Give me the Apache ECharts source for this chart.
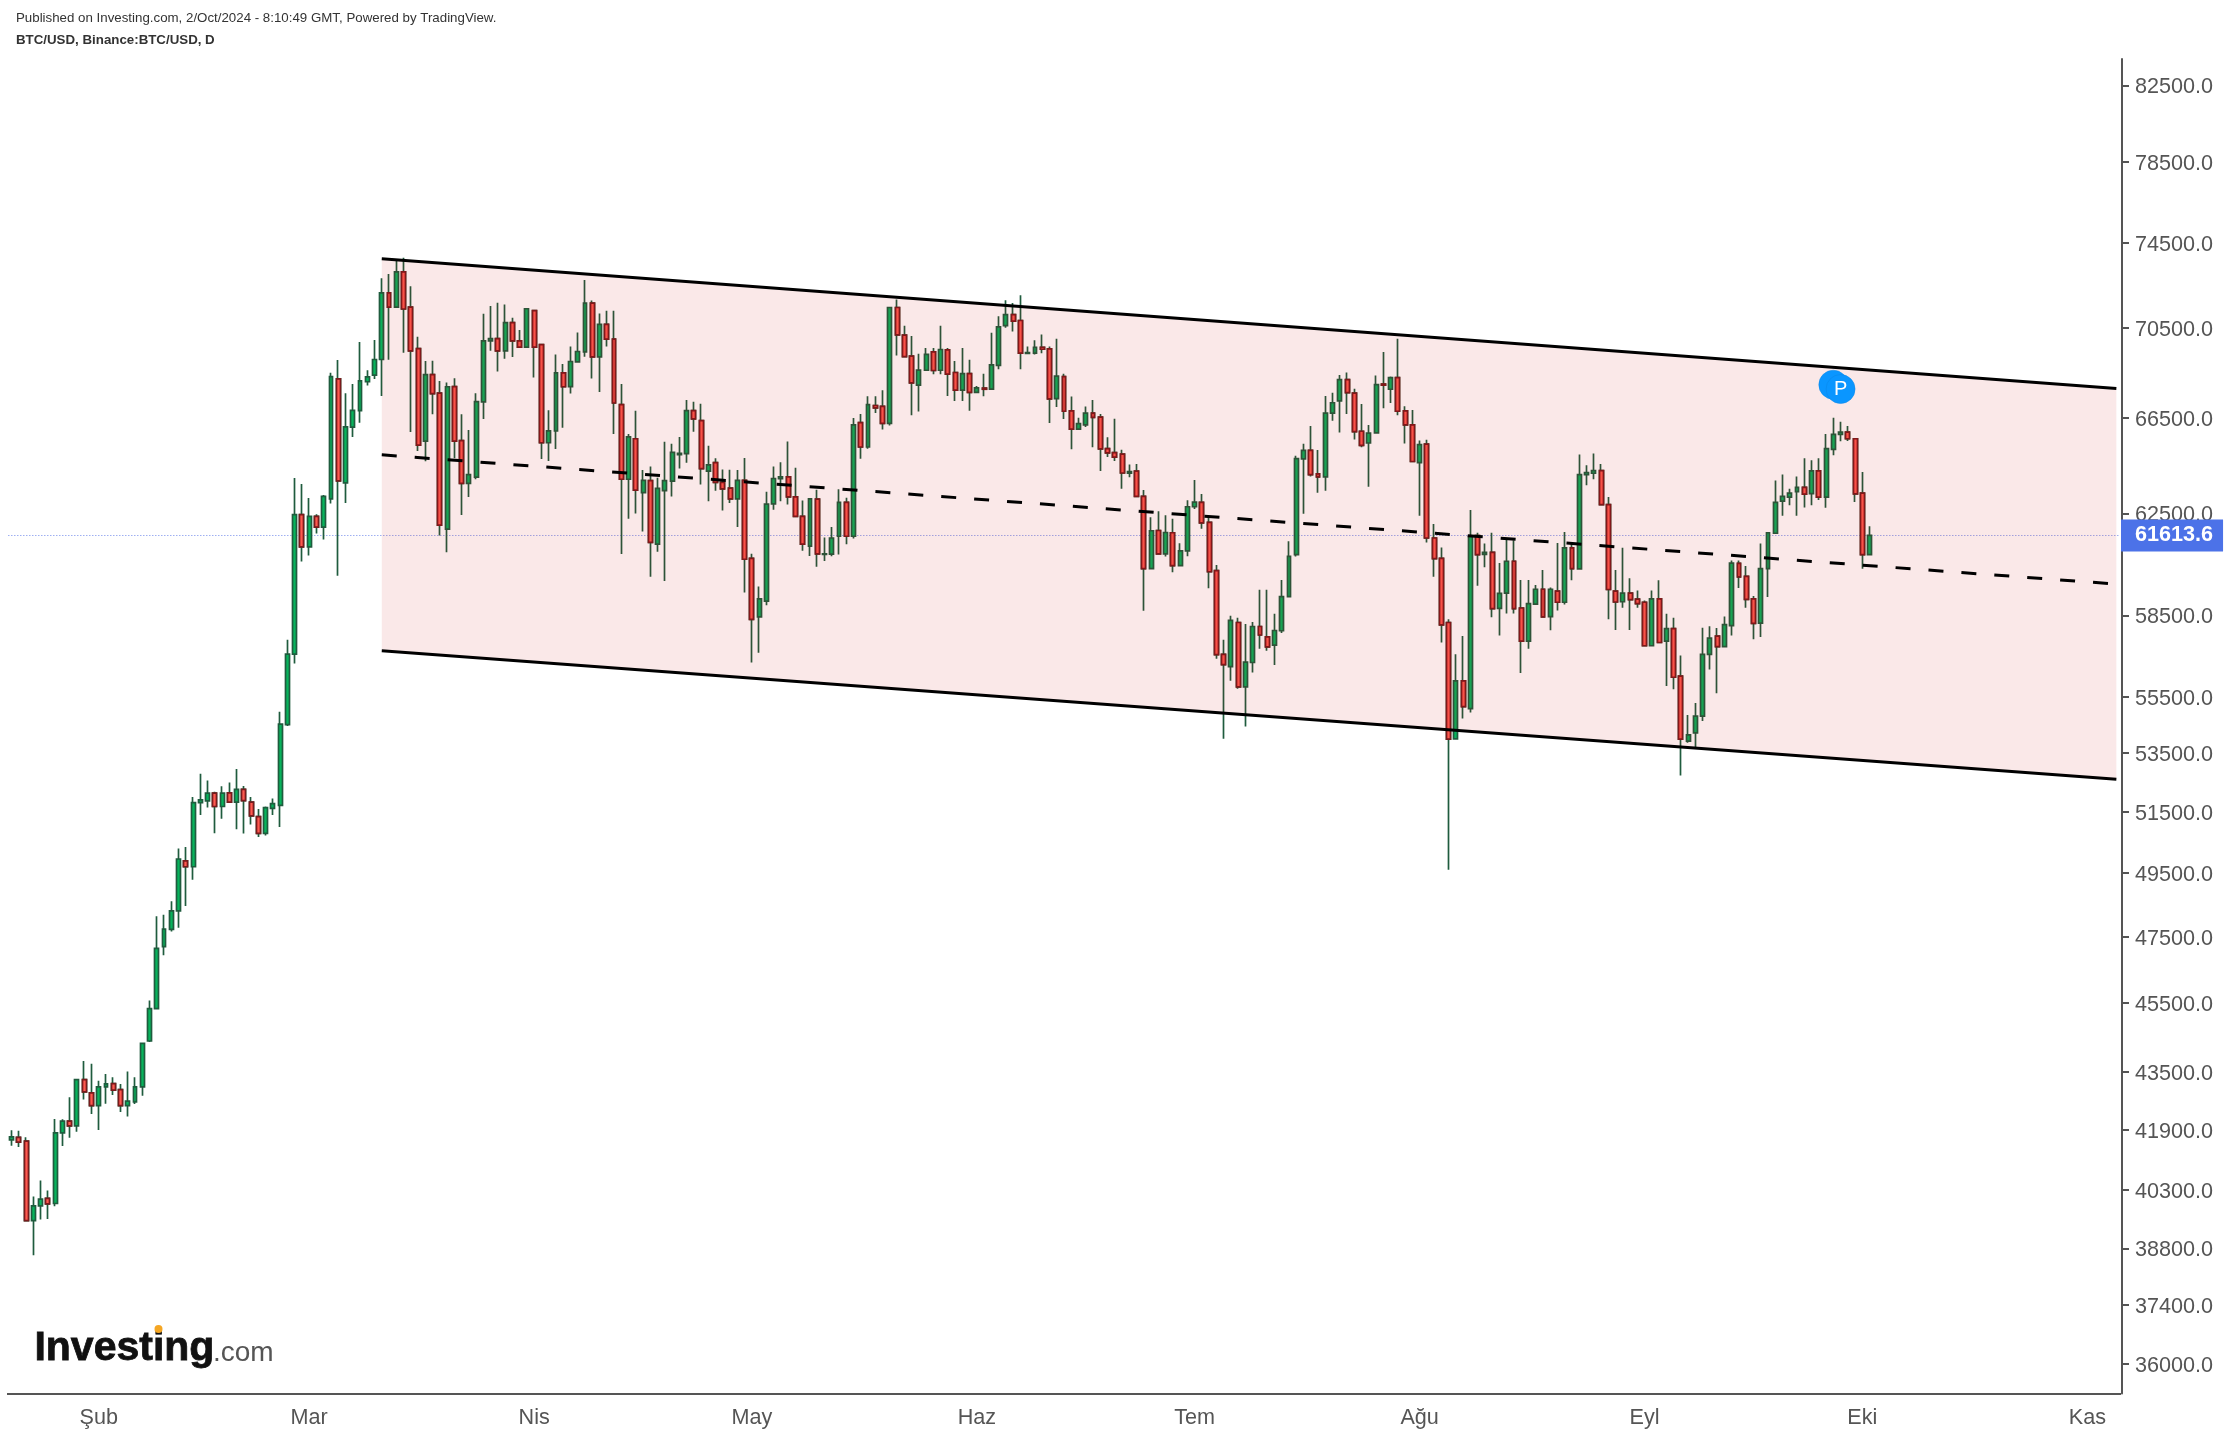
<!DOCTYPE html>
<html><head><meta charset="utf-8">
<style>html,body{margin:0;padding:0;background:#fff}#c{width:2230px;height:1436px}</style>
<script src="https://cdn.jsdelivr.net/npm/echarts@6/dist/echarts.min.js"></script>
</head><body><div id="c"></div>
<script>
const publishedText = 'Published on Investing.com, 2/Oct/2024 - 8:10:49 GMT, Powered by TradingView.';
const symbolText = 'BTC/USD, Binance:BTC/USD, D';
const firstDay = '2024-01-20';
const axisDayCount = 291;
const priceTicks = [82500,78500,74500,70500,66500,62500,58500,55500,53500,51500,49500,47500,45500,43500,41900,40300,38800,37400,36000];
const monthTicks = {'2024-02-01':'Şub','2024-03-01':'Mar','2024-04-01':'Nis','2024-05-01':'May','2024-06-01':'Haz','2024-07-01':'Tem','2024-08-01':'Ağu','2024-09-01':'Eyl','2024-10-01':'Eki','2024-11-01':'Kas'};
const lastPrice = 61613.6;
const opens = [41635,41700,41600,39510,39890,40080,39950,41820,42140,42010,43290,42920,42570,43090,43180,43010,42570,42670,43090,44390,45330,47190,47720,48300,49890,49700,51810,51870,52130,51680,52140,51830,52260,51830,51340,50790,51620,51720,54500,57050,
62450,61160,62380,61950,63090,68200,63750,66100,66810,68070,68360,69060,72110,71450,73100,71450,69550,65500,68390,67570,61870,67860,65520,63730,63990,67190,69900,70000,69450,70730,69900,69620,71280,69730,65430,65930,68460,67860,68950,69400,
71630,69180,70650,69980,67070,63900,65600,63350,63840,61270,63430,63820,64930,64970,66810,66380,64240,64590,63770,63530,63090,63850,60700,58440,59040,62890,63920,64000,63170,62380,61190,63080,60860,60870,61580,62950,61580,66290,65250,67030,
66990,66260,71430,70160,69210,67920,68580,69400,68580,69490,68480,67700,68430,67600,67790,67750,68800,70590,71100,70830,69330,69350,69610,69540,67330,68300,66800,66010,66190,66700,66530,65180,65010,64950,64150,64240,63190,60300,61810,60880,
61720,60420,61000,62770,62950,62140,60220,57040,56590,58230,55850,56740,58080,57690,57380,57920,59220,60850,64750,65110,64120,64000,66700,67230,68165,67570,65920,65420,65850,67970,67740,68250,66800,66190,64590,65370,61510,60700,58230,54000,
56070,55070,61610,60860,60940,58770,59350,60590,58780,57530,58930,59500,58450,59430,59000,61120,60290,64090,64150,64260,62860,59430,59020,59350,59120,59000,57360,59130,57530,58000,56240,53920,54210,54800,57040,57720,57330,58110,60510,60000,
59130,58210,60300,61700,63000,63160,63390,63560,63310,64250,63160,65150,65790,65880,65600,63330,60850];
const highs = [41890,41880,41700,40130,40550,40290,42200,42190,42800,43300,43820,43740,43260,43450,43360,43170,43520,43360,44320,45570,48130,48180,48600,50290,50340,52000,52790,52560,52180,52360,52490,52950,52370,52000,51600,51680,51950,54960,57580,63950,
63700,63130,62470,63250,68470,69040,67570,67970,69850,68580,69940,72800,73000,73640,73770,72420,70090,68990,69000,68100,68040,68230,66650,65970,67570,71140,71500,71650,71570,70950,70390,71400,71320,69750,66820,69290,68860,69650,70280,72720,
71750,71150,71280,71280,67970,65800,66800,64280,64430,63960,65470,65390,65680,67270,67190,67110,65300,64780,64300,64290,64280,64790,60890,59610,63380,64430,64610,65480,64380,63030,63120,63470,61530,61950,63490,63140,66490,66660,67430,67430,
67700,71450,71800,70590,70120,69320,69580,69580,70590,69580,68990,69580,69050,67880,68430,70270,71020,71760,71640,72000,69640,69930,70190,69640,70000,68430,67420,66500,66990,67270,66660,65660,66460,65130,64510,64540,63460,62340,62590,62430,
62280,61300,63040,63870,63290,62400,60440,57580,58490,58410,58170,58250,59480,59480,58560,59860,61380,64880,65390,66150,65120,67440,67590,68370,68480,67760,67100,66190,68350,69400,68300,70000,67000,66830,65530,65560,62070,61130,58350,57040,
57720,62640,61720,61290,61720,60520,61500,61420,59860,59860,59660,60250,59570,61310,61750,61350,64930,64480,64980,64530,63170,60250,61120,59930,59450,59070,59450,59850,58560,58410,57000,54840,55270,58030,58090,58020,58460,60620,60620,60400,
59240,61290,61720,63850,64100,63510,64010,64780,64690,64780,65800,66500,66330,66150,65600,64200,61980];
const lows = [41475,41440,39500,38630,39540,39550,39880,41470,41690,41850,42740,42340,41900,42620,42860,42390,42270,42610,42840,44360,45330,46930,47660,47770,48450,49280,51400,51650,50790,51270,51830,50920,50780,51080,50670,50720,51400,51000,54450,56700,
60580,60820,61690,61450,62900,60020,62920,65680,66280,67900,68190,67450,69050,71450,69360,65890,65080,64650,66650,61610,60950,64780,62440,63170,63900,66450,69450,68520,69090,69170,69620,69620,68260,64740,64660,65170,66070,67550,68950,69180,
68220,67620,69650,65800,60880,62280,62500,61770,59980,60960,59820,63190,64350,64590,65900,63680,62990,63420,62620,62920,61950,59370,56740,57100,58890,62650,62990,62860,62380,61000,60800,60370,60600,60790,60860,61260,61490,64750,65180,66700,
65990,66170,69240,69190,66610,66770,68580,68400,68400,67440,67230,67230,66800,67600,67430,67750,68630,70500,70330,68620,69330,69290,69340,66270,66960,66450,65160,66010,66100,65240,64240,64830,64660,63510,63980,63190,58680,60300,60880,60780,
60160,60420,60790,62680,61880,59540,56880,54000,56070,55780,54430,56370,57250,57170,56650,57840,59220,60780,62490,64010,63340,63420,66370,65870,66660,65570,65240,63590,65850,66910,67140,66610,65400,64640,62410,61330,59980,57480,49600,54000,
54720,54930,59640,60360,58430,57740,58570,58570,56350,57250,58930,58440,57940,58690,58910,59850,60290,63650,63900,62860,58350,57950,58790,57950,58790,57360,57360,57480,55880,55760,52730,53860,53700,54630,56480,55620,57330,57740,59550,58790,
57600,57690,59200,61700,62410,62830,62410,62740,62830,63050,62730,64900,65490,65500,62960,60300,60850];
const closes = [41715,41570,39510,39890,40065,39940,41820,42140,42010,43290,42950,42570,43090,43170,43000,42570,42690,43090,44320,45330,47140,47730,48300,49950,49700,51810,51900,52130,51680,52130,51830,52260,51880,51370,50790,51640,51780,54520,57050,62450,
61160,62380,61950,63190,68300,63830,66110,66820,68110,68290,69060,72110,71450,73100,71360,69450,65330,68390,67550,62030,67850,65500,63730,64090,67200,69900,70000,69450,70730,69900,69620,71370,69620,65430,65940,68460,67850,68970,69420,71630,
69180,70650,69980,67140,63900,65680,63450,63850,61340,63520,63840,65020,64980,66810,66450,64340,64500,63770,63500,63090,63850,60670,58350,59130,62880,63930,64000,63170,62380,61270,63090,60880,60880,61510,62950,61580,66190,65250,67070,66930,
66260,71430,70170,69190,68020,68590,69290,68570,69510,68410,67700,68430,67600,67800,67740,68820,70540,71100,70800,69350,69370,69610,69520,67320,68320,66780,66010,66250,66700,66520,65170,65000,64820,64160,64220,63190,60300,61800,60880,61730,
60420,61000,62770,62960,62120,60180,57030,56660,58310,55850,56750,58080,57760,57320,57930,59220,60780,64760,65110,64090,64000,66700,67150,68165,67590,65900,65320,65840,67940,67920,68250,66780,66190,64640,65350,61510,60690,58140,53990,56070,
55140,61580,60850,60940,58760,59340,60590,58760,57530,58950,59500,58440,59500,59000,61120,60300,64090,64180,64260,62860,59490,59010,59350,59100,58950,57360,59130,57480,58000,56200,53990,54140,54800,57040,57640,57330,58150,60520,59980,59110,
58200,60300,61720,62950,63190,63330,63560,63290,64250,63160,65180,65790,65880,65600,63300,60850,61613.6];
const channelDays = ['2024-03-11','2024-11-05'];
const upperLine = [73720,67770];
const middleLine = [64920,59700];
const lowerLine = [57170,52600];
const pinDays = ['2024-09-27','2024-09-28'];
const pinPrices = [67940,67750];

const dayList = [];
{const t0 = Date.parse(firstDay+'T00:00:00Z');
 for(let i=0;i<axisDayCount;i++) dayList.push(new Date(t0+i*864e5).toISOString().slice(0,10));}
const font = '"Liberation Sans", Arial, sans-serif';
const axisColor = '#555555';
const wickGreen = '#1f5c3e', bodyGreen = '#07b45c', bodyRed = '#ff5a50', edgeRed = '#7a1a1c';
const chart = echarts.init(document.getElementById('c'), null, {renderer:'canvas'});
const candleRows = opens.map((o,i)=>[o,closes[i],lows[i],highs[i]]);
const redRows = opens.map((o,i)=> closes[i]<o ? [o,closes[i],closes[i],o] : ['-','-','-','-']);
const line = (name,vals,type,w)=>({type:'line',name,data:channelDays.map((d,i)=>[d,vals[i]]),showSymbol:false,symbol:'none',z:6,silent:true,clip:true,
  lineStyle:{color:'#000',width:w,type}});
chart.setOption({
  animation:false,
  backgroundColor:'#fff',
  grid:{left:8,right:110,top:59,bottom:42.5,containLabel:false},
  xAxis:{type:'category',data:dayList,boundaryGap:true,
    axisLine:{lineStyle:{color:axisColor,width:2,cap:'square'}},
    axisTick:{alignWithLabel:true,length:7,lineStyle:{color:axisColor,width:2},interval:(i,v)=>v in monthTicks},
    axisLabel:{interval:(i,v)=>v in monthTicks,formatter:v=>monthTicks[v]||'',color:axisColor,fontFamily:font,fontSize:21.6,margin:14,hideOverlap:false},
    splitLine:{show:false}},
  yAxis:{type:'log',logBase:10,position:'right',offset:2,min:35318,max:83920,scale:true,
    axisLine:{show:true,onZero:false,lineStyle:{color:axisColor,width:2}},
    axisTick:{show:true,length:7,customValues:priceTicks,lineStyle:{color:axisColor,width:2}},
    axisLabel:{customValues:priceTicks,formatter:v=>'{t|'+Number(v).toFixed(1)+'}',margin:13,
      rich:{t:{color:axisColor,fontFamily:font,fontSize:21.6,lineHeight:24,padding:[4,0,0,0]}}},
    splitLine:{show:false},minorTick:{show:false}},
  series:[
    {type:'candlestick',name:'BTC/USD',data:candleRows,barWidth:4.4,z:3,silent:true,
     itemStyle:{color:bodyGreen,color0:wickGreen,borderColor:wickGreen,borderColor0:wickGreen,borderWidth:1.7},
     markLine:{silent:true,symbol:'none',animation:false,z:2,
       lineStyle:{color:'#9fb0f2',width:1.2,type:[1.5,1.5]},
       label:{show:true,position:'end',distance:1,formatter:()=>lastPrice.toFixed(1),color:'#fff',backgroundColor:'#4c72e8',
         fontFamily:font,fontWeight:'bold',fontSize:21.6,padding:[5,10,5,14],lineHeight:22},
       data:[{yAxis:lastPrice}]}},
    {type:'candlestick',name:'BTC/USD down bodies',data:redRows,barWidth:4.4,z:4,silent:true,
     itemStyle:{color:bodyRed,color0:bodyRed,borderColor:edgeRed,borderColor0:edgeRed,borderWidth:1.7}},
    {type:'custom',name:'channel fill',z:5,silent:true,clip:true,
     data:[0],
     renderItem:(p,api)=>({type:'polygon',shape:{points:[
        api.coord([channelDays[0],upperLine[0]]),api.coord([channelDays[1],upperLine[1]]),
        api.coord([channelDays[1],lowerLine[1]]),api.coord([channelDays[0],lowerLine[0]])]},
        style:{fill:'rgba(200,0,0,0.09)'}})},
    line('upper',upperLine,'solid',3),
    line('lower',lowerLine,'solid',3),
    line('middle',middleLine,[15,18],3),
    {type:'scatter',name:'pin',z:7,silent:true,symbolSize:29,
     data:pinDays.map((d,i)=>[d,pinPrices[i]]),
     itemStyle:{color:'#0a96ff',borderColor:'#0a86e6',borderWidth:0.5,opacity:1},
     label:{show:true,position:'inside',formatter:p=>p.dataIndex===1?'P':'',color:'#fff',fontFamily:font,fontSize:20}}
  ],
  graphic:[
    {type:'text',left:16,top:12,style:{text:publishedText,font:'13.3px '+font,fill:'#333'}},
    {type:'text',left:16,top:34,style:{text:symbolText,font:'bold 13.3px '+font,fill:'#333'}},
    {type:'text',left:34,top:1328,style:{text:'Investing',font:'bold 41px '+font,fill:'#111',stroke:'#111',lineWidth:0.8}},
    {type:'text',left:213,top:1339,style:{text:'.com',font:'28px '+font,fill:'#555'}},
    {type:'circle',shape:{cx:158.5,cy:1329,r:4},style:{fill:'#f5a623'}}
  ]
});
</script></body></html>
